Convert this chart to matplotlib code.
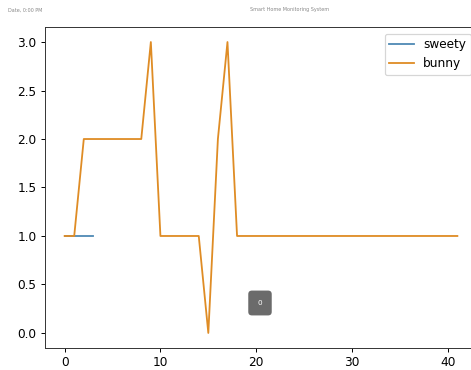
import matplotlib
matplotlib.use("Agg")
import matplotlib.pyplot as plt

# values
sweety_x = [0, 1, 2, 3]
sweety_y = [1, 1, 1, 1]
bunny_x = list(range(42))
bunny_y = [1, 1, 2, 2, 2, 2, 2, 2, 2, 3, 1, 1, 1, 1, 1, 0, 2, 3] + [1] * 24

W, H, DPI = 472, 370, 87
fig = plt.figure(figsize=(W / DPI, H / DPI), dpi=DPI)
ax = fig.add_axes([45 / W, 1 - 347.5 / H, 432 / W, 320 / H])

ax.plot(sweety_x, sweety_y, label="sweety", color="#4f8ab5")
ax.plot(bunny_x, bunny_y, label="bunny", color="#df8c25")
ax.set_xticks([0, 10, 20, 30, 40])
ax.set_yticks([0.0, 0.5, 1.0, 1.5, 2.0, 2.5, 3.0])
for s in ax.spines.values():
    s.set_color("#333333")
ax.legend(loc="upper right")

# little header texts of the screenshot
fig.text(8 / W, 1 - 10 / H, "Date, 0:00 PM", fontsize=4, color="#888888", va="center")
fig.text(290 / W, 1 - 10 / H, "Smart Home Monitoring System", fontsize=4,
         color="#888888", ha="center", va="center")

# badge
fig.text(260 / W, 1 - 303 / H, "0", fontsize=6, color="white", ha="center", va="center",
         bbox=dict(boxstyle="round,pad=1.3,rounding_size=0.5", fc="#6b6b6b", ec="none"))

fig.savefig("out.png", dpi=DPI)
